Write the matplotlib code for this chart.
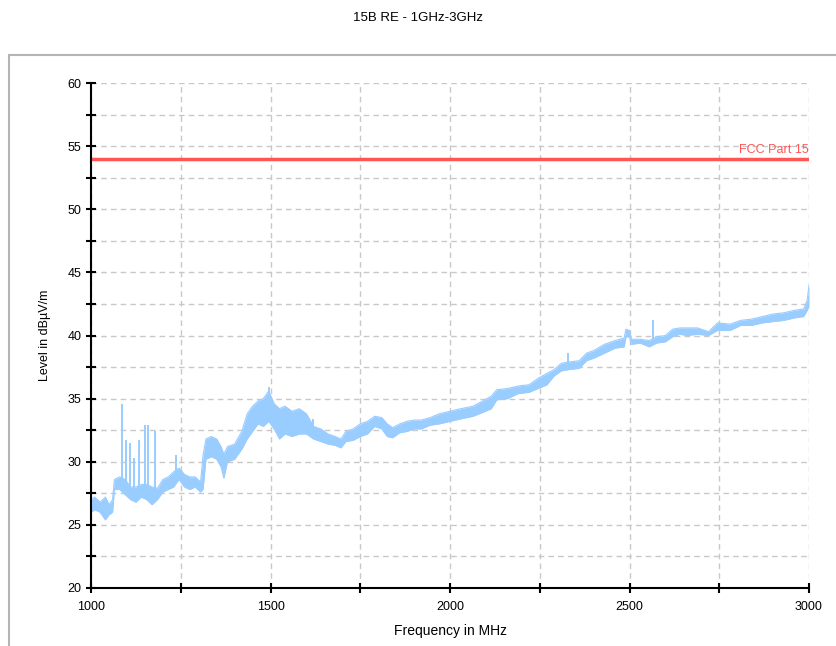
import numpy as np
import matplotlib
matplotlib.use("Agg")
import matplotlib.pyplot as plt
from matplotlib.patches import Rectangle
from matplotlib.ticker import MultipleLocator

plt.rcParams["font.family"] = ["Liberation Sans", "DejaVu Sans"]

freq_mhz = [1000, 1010, 1025, 1040, 1050, 1060, 1065, 1080, 1095, 1110, 1125, 1140,
            1155, 1170, 1185, 1200, 1215, 1230, 1245, 1260, 1275, 1290, 1305, 1312,
            1320, 1335, 1350, 1362, 1370, 1380, 1400, 1420, 1435, 1450, 1465, 1480,
            1495, 1510, 1525, 1540, 1560, 1580, 1600, 1620, 1640, 1660, 1680, 1696,
            1710, 1730, 1750, 1770, 1790, 1810, 1825, 1840, 1860, 1880, 1900, 1920,
            1945, 1970, 2000, 2030, 2064, 2090, 2115, 2130, 2160, 2190, 2220, 2245,
            2270, 2290, 2310, 2330, 2360, 2380, 2400, 2430, 2460, 2485, 2490, 2500,
            2505, 2530, 2555, 2575, 2600, 2620, 2640, 2660, 2690, 2720, 2745, 2780,
            2810, 2840, 2870, 2900, 2930, 2960, 2985, 2995, 3000]
level_lo = [26.0, 26.2, 26.0, 25.4, 25.8, 26.0, 27.8, 27.8, 27.4, 27.0, 26.8, 27.2,
            27.0, 26.6, 27.0, 27.6, 27.8, 28.0, 28.6, 28.0, 27.8, 28.0, 27.6, 27.8,
            30.2, 30.4, 30.2, 29.6, 28.7, 30.0, 30.2, 31.0, 31.8, 32.4, 33.0, 32.8,
            33.2, 32.6, 31.8, 32.2, 32.0, 32.2, 32.2, 31.8, 31.6, 31.4, 31.3, 31.1,
            31.6, 31.7, 32.0, 32.2, 32.8, 32.6, 32.0, 31.9, 32.3, 32.4, 32.6, 32.6,
            32.9, 33.0, 33.2, 33.4, 33.6, 33.9, 34.2, 34.9, 35.0, 35.4, 35.5, 35.8,
            36.1, 36.8, 37.2, 37.3, 37.4, 38.0, 38.2, 38.6, 39.0, 39.1, 39.9, 39.9,
            39.3, 39.4, 39.1, 39.4, 39.5, 39.9, 40.1, 40.0, 40.1, 40.0, 40.4, 40.4,
            40.8, 40.8, 41.0, 41.1, 41.2, 41.4, 41.5, 42.0, 42.3]
level_hi = [27.0, 27.2, 26.8, 27.2, 26.6, 27.0, 28.6, 28.8, 28.6, 28.0, 28.0, 28.2,
            28.2, 28.0, 27.9, 28.6, 28.8, 29.2, 29.5, 29.0, 28.8, 28.8, 28.4, 30.5,
            31.8, 32.0, 31.8, 31.2, 30.6, 31.2, 31.4, 32.4, 33.8, 34.4, 34.8, 35.0,
            35.6, 34.6, 34.2, 34.4, 34.0, 34.2, 33.8, 32.8, 32.6, 32.2, 32.0, 31.8,
            32.4, 32.6, 33.0, 33.2, 33.6, 33.5, 33.0, 32.7, 33.0, 33.2, 33.3, 33.3,
            33.5, 33.8, 34.0, 34.2, 34.4, 34.8, 35.2, 35.7, 35.8, 36.0, 36.1, 36.6,
            37.0, 37.3, 37.8, 37.9, 38.0, 38.6, 38.8, 39.3, 39.6, 39.8, 40.5, 40.4,
            39.7, 39.7, 39.6, 39.9, 40.0, 40.5, 40.6, 40.6, 40.6, 40.3, 41.0, 40.9,
            41.2, 41.3, 41.5, 41.7, 41.8, 42.0, 42.1, 42.8, 44.0]

# narrow spikes above the trace
spike_mhz = [1086, 1097, 1108, 1121, 1133, 1150, 1160, 1178, 1237, 1496, 1618, 2329, 2565]
spike_top = [34.6, 31.7, 31.5, 30.3, 31.7, 32.9, 32.9, 32.4, 30.5, 35.9, 33.4, 38.6, 41.2]

limit_mhz = [1000, 3000]
limit_level = [54, 54]
limit_name = "FCC Part 15"

trace_color = "#99ccff"
limit_color = "#ff5555"

fig = plt.figure(figsize=(8.36, 6.46), dpi=100)
ax = fig.add_axes([0.1089, 0.0898, 0.8588, 0.7817])

ax.fill_between(freq_mhz, level_lo, level_hi, color=trace_color, linewidth=0)
ax.plot(freq_mhz, level_lo, color=trace_color, linewidth=0.8)
ax.plot(freq_mhz, level_hi, color=trace_color, linewidth=0.8)
spike_base = np.interp(spike_mhz, freq_mhz, level_lo)
ax.vlines(spike_mhz, spike_base, spike_top, color=trace_color, linewidth=1.4)

ax.plot(limit_mhz, limit_level, color=limit_color, linewidth=2.5, solid_capstyle="butt")
ax.text(limit_mhz[-1], limit_level[-1] + 0.2, limit_name, color=limit_color,
        fontsize=9, ha="right", va="bottom")

ax.set_xlim(1000, 3000)
ax.set_ylim(20, 60)
ax.xaxis.set_major_locator(MultipleLocator(500))
ax.xaxis.set_minor_locator(MultipleLocator(250))
ax.yaxis.set_major_locator(MultipleLocator(5))
ax.yaxis.set_minor_locator(MultipleLocator(2.5))
ax.grid(True, which="both", linestyle=(0, (4, 3)), color="#c8c8c8", linewidth=1)
ax.set_axisbelow(True)

for side in ["top", "right"]:
    ax.spines[side].set_visible(False)
for side in ["left", "bottom"]:
    ax.spines[side].set_linewidth(1.5)
ax.tick_params(which="both", direction="inout", length=7, width=1.5, labelsize=9)
ax.tick_params(axis="x", pad=6)

ax.set_xlabel("Frequency in MHz", fontsize=10, labelpad=8)
ax.set_ylabel("Level in dB\u00b5V/m", fontsize=9, labelpad=12)

fig.text(0.5, 1 - 18 / 646, "15B RE - 1GHz-3GHz", ha="center", va="center", fontsize=9.5)
fig.patches.append(Rectangle((9 / 836, -0.1), 1.2, 1.1 - 55 / 646,
                             transform=fig.transFigure, fill=False,
                             edgecolor="#b4b4b4", linewidth=1.5))

fig.savefig("out.png", dpi=100)
